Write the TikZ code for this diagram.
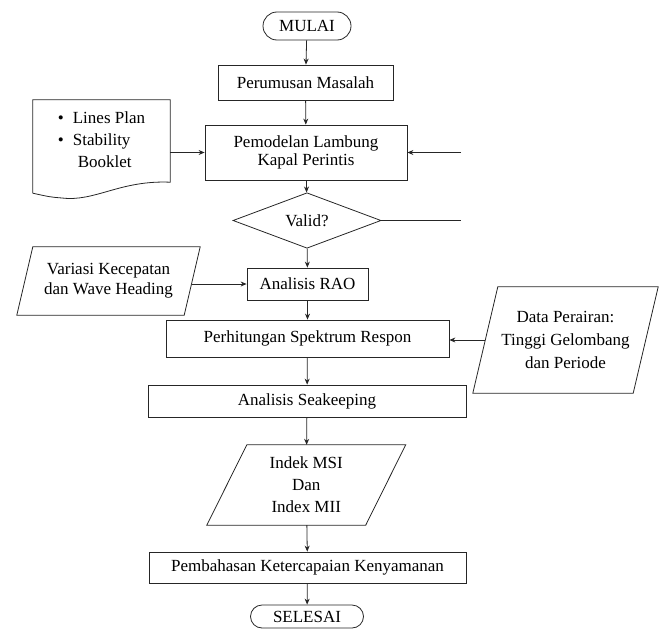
\documentclass[tikz,border=0pt]{standalone}
\usepackage{fontspec}
\setmainfont{Liberation Serif}
\usetikzlibrary{shapes.geometric,shapes.misc,arrows.meta,calc}
\begin{document}
\begin{tikzpicture}[x=1pt,y=-1pt,
  every node/.style={font=\fontsize{17}{19}\selectfont, text=black, inner sep=0pt, align=center},
  ln/.style={draw=black!85, line width=0.8pt},
  procbox/.style={ln, rectangle},
  termbox/.style={ln, rounded rectangle},
  decbox/.style={ln, diamond},
  arr/.style={draw=black!85, line width=0.8pt, -{Stealth[length=6pt,width=5pt]}},
  plain/.style={draw=black!85, line width=0.8pt}
]
\useasboundingbox (0,0) rectangle (666,629);

% terminals and processes
\node[termbox, minimum width=88pt, minimum height=28pt] (mulai) at (307,26) {MULAI};
\node[procbox, minimum width=175pt, minimum height=35pt] (rumus) at (305.5,82.5) {Perumusan Masalah};
\node[procbox, minimum width=202pt, minimum height=55pt, font=\fontsize{17}{18}\selectfont] (model) at (306,152.5) {Pemodelan Lambung\\Kapal Perintis};

% document
\node[minimum width=137pt, minimum height=82pt, font=\fontsize{17}{22}\selectfont] (doc) at (101.5,141)
  {\begin{tabular}{@{}l@{\hspace{9pt}}l@{}}\textbullet & Lines Plan\\ \textbullet & Stability\\ & \hspace{5pt}Booklet\end{tabular}};
\draw[plain] ($(doc.south west)+(0,11)$) -- (doc.north west) -- (doc.north east) -- (doc.south east)
  .. controls (120,180) and (95,202) .. (62,198) .. controls (50,197) .. ($(doc.south west)+(0,11)$);

% decision
\node[decbox, minimum width=148pt, minimum height=55pt] (valid) at (307,220.5) {Valid?};
\coordinate (r1) at (461,152.5);
\coordinate (r2) at (461,220.5);

% RAO and inputs
\node[procbox, minimum width=121pt, minimum height=32pt] (rao) at (307.5,284) {Analisis RAO};
\node[minimum width=167pt, minimum height=68pt, font=\fontsize{17}{20}\selectfont] (var) at (108.5,281) {Variasi Kecepatan\\dan Wave Heading};
\draw[plain] ($(var.north west)+(8,0)$) -- ($(var.north east)+(8,0)$) -- ($(var.south east)+(-8,0)$) -- ($(var.south west)+(-8,0)$) -- cycle;

\node[procbox, minimum width=283pt, minimum height=37pt] (spek) at (307.5,338.5) {Perhitungan Spektrum Respon};
\node[minimum width=160pt, minimum height=106pt, font=\fontsize{17}{23}\selectfont] (data) at (565.5,340) {Data Perairan:\\Tinggi Gelombang\\dan Periode};
\draw[plain] ($(data.north west)+(12.5,0)$) -- ($(data.north east)+(12.5,0)$) -- ($(data.south east)+(-12.5,0)$) -- ($(data.south west)+(-12.5,0)$) -- cycle;

\node[procbox, minimum width=318pt, minimum height=32pt] (seak) at (307,401) {Analisis Seakeeping};
\node[minimum width=158.5pt, minimum height=80pt, font=\fontsize{17}{22}\selectfont] (idx) at (306.25,485) {Indek MSI\\Dan\\Index MII};
\draw[plain] ($(idx.north west)+(20,0)$) -- ($(idx.north east)+(20,0)$) -- ($(idx.south east)+(-20,0)$) -- ($(idx.south west)+(-20,0)$) -- cycle;

\node[procbox, minimum width=317pt, minimum height=31pt] (bahas) at (307.5,567.5) {Pembahasan Ketercapaian Kenyamanan};
\node[termbox, minimum width=113pt, minimum height=23pt] (selesai) at (307,616.5) {SELESAI};

% connectors
\draw[arr] (mulai) -- (rumus);
\draw[arr] (rumus) -- (model);
\draw[arr] (doc.east |- model.west) -- (model.west);
\draw[arr] (r1) -- (model.east);
\draw[arr] (model) -- (valid);
\draw[plain] (valid.east) -- (r2);
\draw[arr] (valid) -- (rao);
\draw[arr] (var.east |- rao.west) -- (rao.west);
\draw[arr] (rao) -- (spek);
\draw[arr] (data.west) -- (data.west -| spek.east);
\draw[arr] (spek) -- (seak);
\draw[arr] (seak) -- (idx);
\draw[arr] (idx) -- (bahas);
\draw[arr] (bahas) -- (selesai);
\end{tikzpicture}
\end{document}
